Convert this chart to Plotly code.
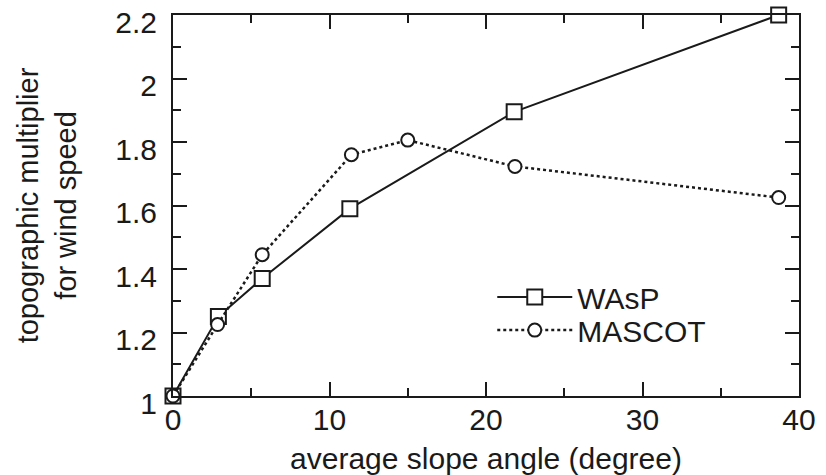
import plotly.graph_objects as go

wasp_x = [0, 2.9, 5.7, 11.3, 21.8, 38.7]
wasp_y = [1.0, 1.25, 1.37, 1.59, 1.895, 2.2]
mascot_x = [0, 2.85, 5.7, 11.4, 15.0, 21.85, 38.7]
mascot_y = [1.0, 1.225, 1.445, 1.76, 1.806, 1.723, 1.625]

x_title = "average slope angle (degree)"
y_title = "topographic multiplier<br>for wind speed"

FONT = "Liberation Sans, Arial, sans-serif"
INK = "#1a1a1a"

fig = go.Figure()
fig.add_trace(go.Scatter(
    x=wasp_x, y=wasp_y, name="WAsP", mode="lines+markers",
    line=dict(color=INK, width=2, dash="solid"),
    marker=dict(symbol="square", size=15, color="white", line=dict(color=INK, width=2)),
    cliponaxis=False, legend="legend",
))
fig.add_trace(go.Scatter(
    x=mascot_x, y=mascot_y, name="MASCOT", mode="lines+markers",
    line=dict(color=INK, width=2.5, dash="dot"),
    marker=dict(symbol="circle", size=13, color="white", line=dict(color=INK, width=2)),
    cliponaxis=False, legend="legend2",
))

axis_common = dict(
    showgrid=False, zeroline=False, showline=True, linecolor=INK, linewidth=2,
    mirror="ticks", ticks="inside", tickcolor=INK, tickwidth=1.5, ticklen=14,
    tickfont=dict(family=FONT, size=30, color=INK), automargin=False,
)

fig.update_xaxes(
    range=[0, 40], dtick=10, tick0=0,
    minor=dict(dtick=5, ticks="inside", ticklen=8, tickcolor=INK, tickwidth=1.5),
    ticklabelstandoff=-4,
    title=dict(text=x_title, font=dict(family=FONT, size=30, color=INK), standoff=15),
    **axis_common,
)
fig.update_yaxes(
    range=[1, 2.2], dtick=0.2, tick0=1,
    minor=dict(dtick=0.1, ticks="inside", ticklen=8, tickcolor=INK, tickwidth=1.5),
    ticklabelstandoff=8, ticklabelshift=7, ticklabeloverflow="allow",
    title=dict(text=y_title, font=dict(family=FONT, size=29, color=INK), standoff=30),
    **axis_common,
)

legend_common = dict(
    xanchor="left", yanchor="middle", x=0.51,
    bgcolor="rgba(0,0,0,0)", font=dict(family=FONT, size=30, color=INK),
    itemwidth=75,
)
fig.update_layout(
    width=826, height=475,
    margin=dict(l=173, r=27, t=15, b=79, autoexpand=False),
    paper_bgcolor="white", plot_bgcolor="white",
    showlegend=True,
    legend=dict(y=0.26, **legend_common),
    legend2=dict(y=0.173, **legend_common),
)

fig.write_html("out.html")
